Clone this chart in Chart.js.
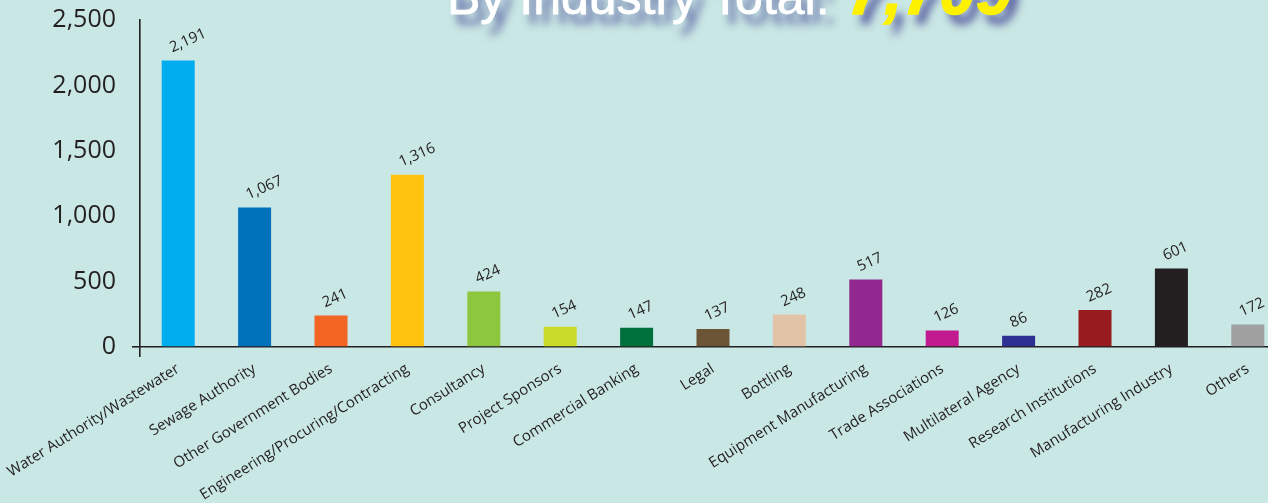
<!DOCTYPE html>
<html>
<head>
<meta charset="utf-8">
<script src="https://cdn.jsdelivr.net/npm/chart.js@4"></script>
<style>
  html, body { margin:0; padding:0; width:1268px; height:503px; overflow:hidden; background:#c9e7e4; }
  #wrap { position:relative; width:1268px; height:503px; overflow:hidden; }
  canvas { position:absolute; left:0; top:0; }
  #title { position:absolute; left:447px; top:-33px; white-space:nowrap; line-height:50px;
           font-family:"Liberation Sans Narrow","Liberation Sans",sans-serif; font-size:50px; color:#fff;
           text-shadow: 7px 10px 9px #555a9e; -webkit-text-stroke:0.8px #fff; }
  #title .num { font-family:"Liberation Sans",sans-serif; font-weight:bold; font-style:italic; font-size:64px; color:#fff200; -webkit-text-stroke:1.5px #fff200; margin-left:18px; letter-spacing:1px; }
</style>
</head>
<body>
<div id="wrap">
  <canvas id="c" width="1290" height="503"></canvas>
  <div id="title">By Industry Total:<span class="num">7,709</span></div>
</div>
<script>
const categories = ["Water Authority/Wastewater","Sewage Authority","Other Government Bodies","Engineering/Procuring/Contracting","Consultancy","Project Sponsors","Commercial Banking","Legal","Bottling","Equipment Manufacturing","Trade Associations","Multilateral Agency","Research Institutions","Manufacturing Industry","Others"];
const values = [2191,1067,241,1316,424,154,147,137,248,517,126,86,282,601,172];
const barColors = ["#00aeef","#0072bc","#f26522","#ffc20e","#8dc63f","#cbdb2a","#00703c","#6b5536","#e3c3a7","#92278f","#c11b8f","#2e3192","#981b1e","#231f20","#a0a0a0"];
const yTicks = [0,500,1000,1500,2000,2500];

const dark = '#231f20';
const fmt = v => v.toLocaleString('en-US');

const valueLabels = {
  id:'valueLabels',
  afterDatasetsDraw(chart){
    const ctx = chart.ctx;
    const meta = chart.getDatasetMeta(0);
    ctx.save();
    ctx.font = '15px "Open Sans", sans-serif';
    ctx.fillStyle = dark;
    ctx.textAlign = 'left';
    ctx.textBaseline = 'alphabetic';
    meta.data.forEach((bar,i)=>{
      ctx.save();
      ctx.translate(bar.x - 6, bar.y - 8);
      ctx.rotate(-24*Math.PI/180);
      ctx.fillText(fmt(values[i]), 0, 0);
      ctx.restore();
    });
    ctx.restore();
  }
};

new Chart(document.getElementById('c'), {
  type:'bar',
  data:{ labels:categories, datasets:[{ data:values, backgroundColor:barColors, barPercentage:0.432, categoryPercentage:1 }] },
  options:{
    responsive:false, animation:false, devicePixelRatio:1,
    layout:{ padding:{ top:20, right:4, left:0, bottom:0 } },
    plugins:{ legend:{display:false}, tooltip:{enabled:false}, title:{display:false} },
    scales:{
      x:{
        afterFit: s => { s.height = 156; s.paddingLeft = 0; s.paddingRight = 0; },
        border:{ display:true, color:dark, width:1.6 },
        grid:{ offset:true, drawOnChartArea:false, drawTicks:true, tickLength:10,
               color: c => c.index === 0 ? dark : 'rgba(0,0,0,0)', lineWidth:1.6 },
        ticks:{ autoSkip:false, minRotation:32, maxRotation:32, padding:3,
                font:{ family:'"Open Sans", sans-serif', size:15 }, color:dark }
      },
      y:{
        min:0, max:2500,
        afterFit: s => { s.width = 140; s.paddingTop = 0; s.paddingBottom = 0; },
        afterBuildTicks: s => { s.ticks = yTicks.map(v => ({value:v})); },
        border:{ display:true, color:dark, width:1.6 },
        grid:{ drawOnChartArea:false, drawTicks:true, tickLength:8,
               color: c => (c.tick && c.tick.value === 0) ? dark : 'rgba(0,0,0,0)', lineWidth:1.6 },
        ticks:{ padding:16, font:{ family:'"Open Sans", sans-serif', size:25 }, color:dark,
                callback: v => fmt(v) }
      }
    }
  },
  plugins:[valueLabels]
});
</script>
</body>
</html>
